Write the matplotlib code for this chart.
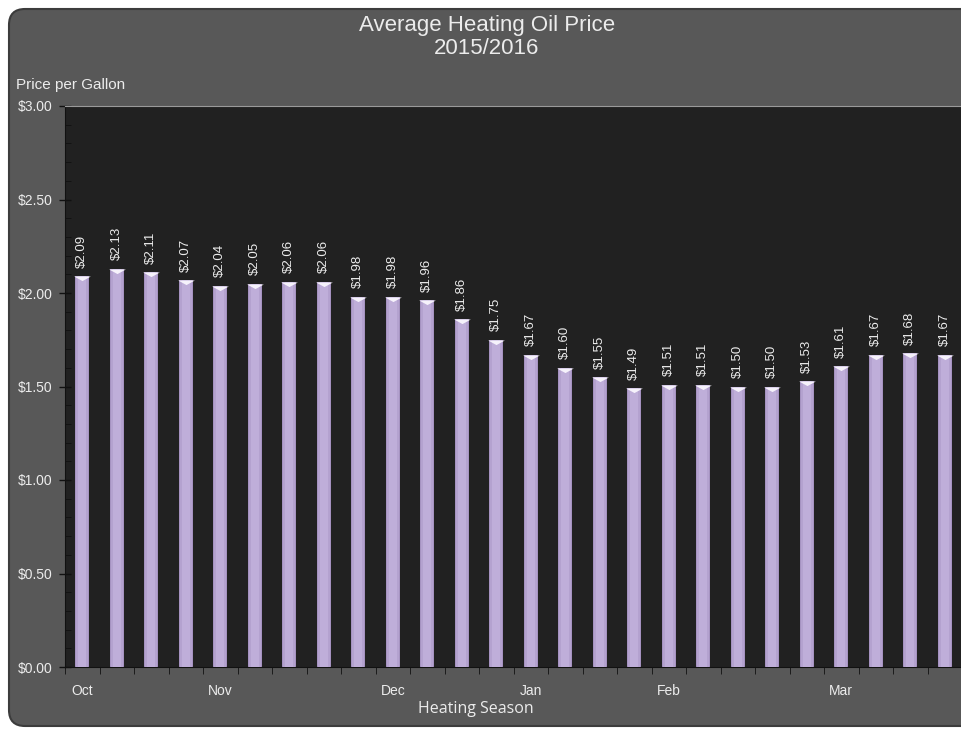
import matplotlib
matplotlib.use("Agg")
import matplotlib.pyplot as plt
from matplotlib.patches import FancyBboxPatch
from matplotlib.transforms import IdentityTransform
from matplotlib.ticker import MultipleLocator, FuncFormatter

PRICES = [2.09, 2.13, 2.11, 2.07, 2.04, 2.05, 2.06, 2.06, 1.98, 1.98, 1.96, 1.86, 1.75,
          1.67, 1.60, 1.55, 1.49, 1.51, 1.51, 1.50, 1.50, 1.53, 1.61, 1.67, 1.68, 1.67]
MONTH_POSITIONS = [0, 4, 9, 13, 17, 22]
MONTH_LABELS = ["Oct", "Nov", "Dec", "Jan", "Feb", "Mar"]

PANEL_COLOR = "#585858"
PLOT_BG = "#212121"
TEXT_COLOR = "#ececec"

plt.rcParams["font.family"] = ["Liberation Sans", "DejaVu Sans"]

fig = plt.figure(figsize=(9.62, 7.29), dpi=100, facecolor="white")

# rounded grey panel behind everything (pixel coords, origin bottom-left)
panel = FancyBboxPatch((9, 3), 990, 717, boxstyle="round,pad=0,rounding_size=16",
                       transform=IdentityTransform(), facecolor=PANEL_COLOR,
                       edgecolor="#3c3c3c", linewidth=1.5, zorder=-5)
fig.patches.append(panel)

ax = fig.add_axes([65 / 962, 1 - 667 / 729, 1 - 65 / 962, (667 - 106) / 729])
ax.set_zorder(2)
ax.set_facecolor(PLOT_BG)

x = list(range(len(PRICES)))
# layered bars to fake the cylinder shading
ax.bar(x, PRICES, width=0.41, color="#a592c0", zorder=2)
ax.bar(x, PRICES, width=0.35, color="#b4a2cf", zorder=3)
ax.bar(x, PRICES, width=0.22, color="#bfaed9", zorder=4)
ax.plot(x, PRICES, linestyle="none", marker=[(-1, 0), (1, 0), (0, -0.55)],
        markersize=12, color="#f6f2fb", markeredgewidth=0, zorder=5)

for xi, p in zip(x, PRICES):
    ax.annotate(f"${p:.2f}", (xi, p), xytext=(0, 6), textcoords="offset points",
                rotation=90, ha="center", va="bottom", color=TEXT_COLOR, fontsize=9.5)

ax.set_xlim(-0.5, 25.45)
ax.set_ylim(0, 3.0)

ax.yaxis.set_major_locator(MultipleLocator(0.5))
ax.yaxis.set_minor_locator(MultipleLocator(0.1))
ax.yaxis.set_major_formatter(FuncFormatter(lambda v, _: f"${v:.2f}"))
ax.tick_params(axis="y", which="major", direction="inout", length=8, width=1,
               color="#111111", labelcolor=TEXT_COLOR, labelsize=10, pad=5)
ax.tick_params(axis="y", which="minor", direction="in", length=4, color="#111111")

ax.set_xticks(MONTH_POSITIONS)
ax.set_xticklabels(MONTH_LABELS)
ax.set_xticks([i - 0.5 for i in range(len(PRICES) + 1)], minor=True)
ax.tick_params(axis="x", which="major", length=0, labelcolor=TEXT_COLOR,
               labelsize=10, pad=12)
ax.tick_params(axis="x", which="minor", direction="out", length=5, color="#111111")

ax.spines["right"].set_visible(False)
ax.spines["top"].set_color("#9a9a9a")
ax.spines["left"].set_color("#111111")
ax.spines["bottom"].set_color("#111111")

fig.text(487 / 962, 1 - 26 / 729, "Average Heating Oil Price", ha="center", va="center",
         color=TEXT_COLOR, fontsize=16)
fig.text(487 / 962, 1 - 48 / 729, "2015/2016", ha="center", va="center",
         color=TEXT_COLOR, fontsize=16)
fig.text(16 / 962, 1 - 85 / 729, "Price per Gallon", ha="left", va="center",
         color=TEXT_COLOR, fontsize=11)
fig.text(476 / 962, 1 - 709 / 729, "Heating Season", ha="center", va="center",
         color=TEXT_COLOR, fontsize=11.5, family=["Open Sans", "DejaVu Sans"])

fig.savefig("out.png", dpi=100, facecolor="white")
